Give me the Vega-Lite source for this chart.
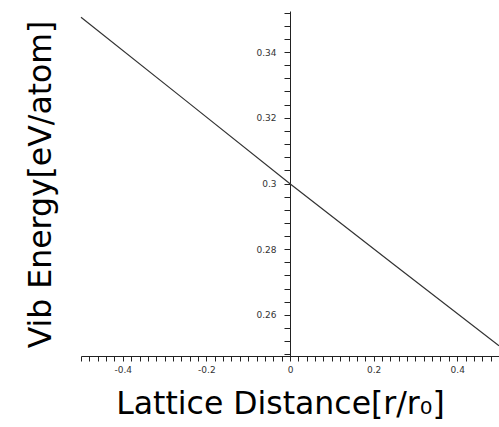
{
  "$schema": "https://vega.github.io/schema/vega-lite/v6.json",
  "width": 418,
  "height": 345,
  "autosize": {"type": "none"},
  "padding": {"left": 81, "top": 11, "right": 0, "bottom": 71},
  "background": "white",
  "config": {
    "view": {"stroke": null},
    "axis": {
      "grid": false,
      "domainColor": "#222",
      "domainWidth": 1,
      "tickColor": "#222",
      "tickWidth": 1,
      "labelFont": "DejaVu Sans",
      "labelFontSize": 9,
      "labelColor": "#333",
      "labelOverlap": false,
      "titleFont": "DejaVu Sans",
      "titleFontSize": 31.5,
      "titleFontWeight": "normal",
      "titleColor": "#000"
    }
  },
  "data": {
    "values": [
      {"r": -0.5, "e": 0.3506},
      {"r": -0.25, "e": 0.3253},
      {"r": 0, "e": 0.2999},
      {"r": 0.25, "e": 0.2752},
      {"r": 0.5, "e": 0.2506}
    ]
  },
  "mark": {"type": "line", "color": "#333", "strokeWidth": 1.2},
  "encoding": {
    "x": {
      "field": "r",
      "type": "quantitative",
      "scale": {"domain": [-0.5, 0.5], "nice": false, "zero": false},
      "axis": {
        "title": "Lattice Distance[r/r₀]",
        "titleX": 199,
        "titleY": 57,
        "titleBaseline": "alphabetic",
        "titleAlign": "center",
        "tickSize": 5,
        "labelPadding": 4,
        "format": "~g",
        "values": [-0.5,-0.48,-0.46,-0.44,-0.42,-0.4,-0.38,-0.36,-0.34,-0.32,-0.3,-0.28,-0.26,-0.24,-0.22,-0.2,-0.18,-0.16,-0.14,-0.12,-0.1,-0.08,-0.06,-0.04,-0.02,0,0.02,0.04,0.06,0.08,0.1,0.12,0.14,0.16,0.18,0.2,0.22,0.24,0.26,0.28,0.3,0.32,0.34,0.36,0.38,0.4,0.42,0.44,0.46,0.48,0.5],
        "labelExpr": "abs(datum.value*5 - round(datum.value*5)) < 0.01 ? replace(datum.label, '−', '-') : ''"
      }
    },
    "y": {
      "field": "e",
      "type": "quantitative",
      "scale": {"domain": [0.2475, 0.3525], "nice": false, "zero": false},
      "axis": {
        "title": "Vib Energy[eV/atom]",
        "offset": -209,
        "titleX": -240,
        "titleY": 173,
        "titleAngle": -90,
        "titleBaseline": "alphabetic",
        "titleAlign": "center",
        "tickSize": 6,
        "labelPadding": 8,
        "format": "~g",
        "values": [0.248,0.252,0.256,0.26,0.264,0.268,0.272,0.276,0.28,0.284,0.288,0.292,0.296,0.3,0.304,0.308,0.312,0.316,0.32,0.324,0.328,0.332,0.336,0.34,0.344,0.348,0.352],
        "labelExpr": "abs(datum.value*50 - round(datum.value*50)) < 0.01 ? datum.label : ''"
      }
    }
  }
}
